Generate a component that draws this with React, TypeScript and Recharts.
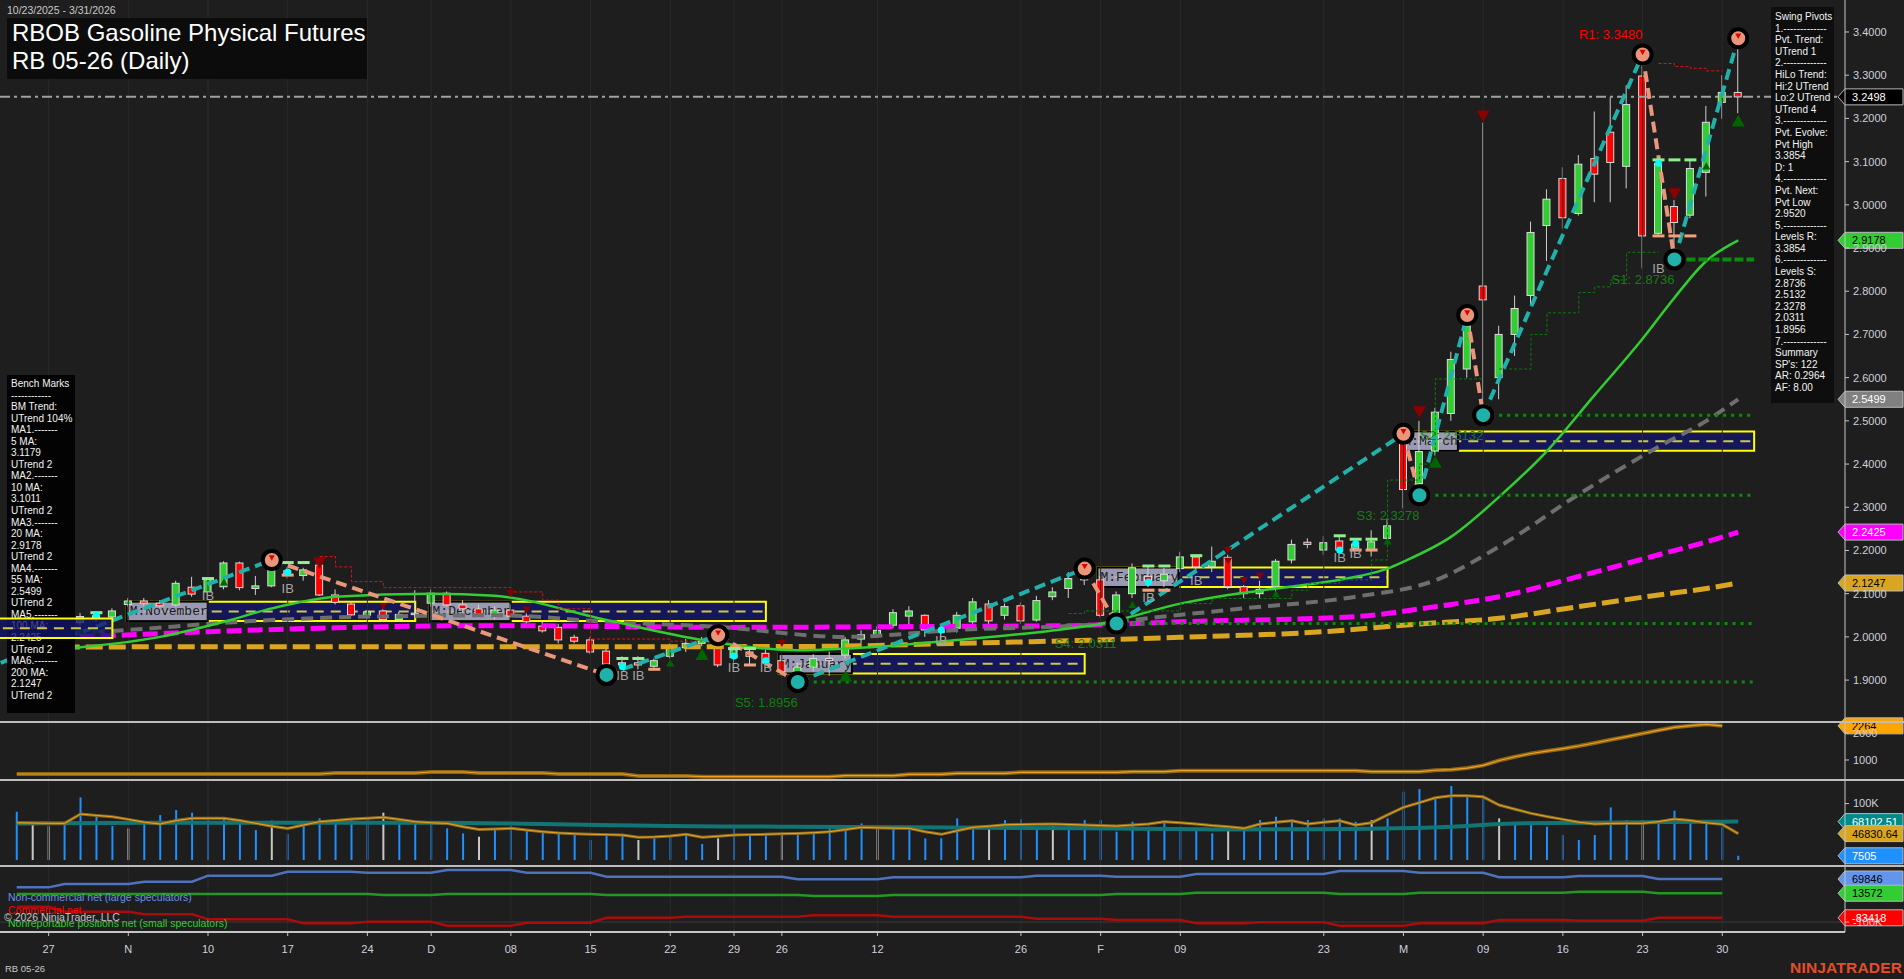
import React from "react"
import {
  ComposedChart,
  Bar,
  Line,
  XAxis,
  YAxis,
  ReferenceLine,
  ReferenceArea,
  Scatter,
  Cell,
} from "recharts"

const FONT = "'Liberation Sans', Arial, Helvetica, sans-serif"
const MONO = "'Liberation Mono', 'Courier New', monospace"
const BG = "#1e1e1e"
const W = 1904
const AXIS_W = 59
const X_DOMAIN: [number, number] = [-1.05, 114.7]
const PRICE_DOMAIN: [number, number] = [1.803, 3.474]
const TICK_COLOR = "#d0d0dc"
const LINE_COLOR = "#c4c4c4"
const BOX_HALF = 0.0225

// ---- time axis (bar index -> label) ----
const xTickIdx = [2, 7, 12, 17, 22, 26, 31, 36, 41, 45, 48, 54, 63, 68, 73, 82, 87, 92, 97, 102, 107]
const xTickLbl = ["27", "N", "10", "17", "24", "D", "08", "15", "22", "29", "26", "12", "26", "F", "09", "23", "M", "09", "16", "23", "30"]

// ---- daily candles, 10/23/2025 .. 3/31/2026 ----
const opens = [
  1.995, 2.01, 2.03, 2.02, 2.033, 2.045, 2.046, 2.075, 2.083, 2.078,
  2.074, 2.115, 2.104, 2.116, 2.171, 2.112, 2.118, 2.153, 2.142, 2.166,
  2.097, 2.076, 2.05, 2.06, 2.04, 2.052, 2.078, 2.101, 2.074, 2.065,
  2.05, 2.062, 2.048, 2.025, 2.022, 1.999, 1.993, 1.967, 1.935, 1.94,
  1.932, 1.955, 1.975, 1.985, 1.977, 1.952, 1.965, 1.962, 1.945, 1.918,
  1.93, 1.95, 1.958, 1.995, 2.005, 2.027, 2.048, 2.05, 2.016, 2.02,
  2.035, 2.076, 2.05, 2.072, 2.039, 2.093, 2.112, 2.132, 2.132, 2.054,
  2.1, 2.14, 2.13, 2.158, 2.185, 2.162, 2.184, 2.116, 2.1, 2.116,
  2.178, 2.219, 2.201, 2.222, 2.205, 2.2, 2.228, 2.479, 2.355, 2.43,
  2.517, 2.62, 2.812, 2.6, 2.7, 2.79, 2.952, 3.061, 2.98, 3.107,
  3.168, 3.089, 3.298, 2.934, 2.996, 2.976, 3.075, 3.237, 3.26,
]
const highs = [
  2.02, 2.035, 2.045, 2.05, 2.055, 2.058, 2.066, 2.09, 2.09, 2.085,
  2.13, 2.139, 2.138, 2.175, 2.174, 2.141, 2.178, 2.162, 2.16, 2.17,
  2.11, 2.08, 2.062, 2.065, 2.058, 2.108, 2.11, 2.105, 2.085, 2.075,
  2.07, 2.075, 2.055, 2.035, 2.03, 2.005, 2.0, 1.975, 1.955, 1.955,
  1.95, 1.985, 1.995, 2.0, 2.004, 1.975, 1.975, 1.97, 1.955, 1.94,
  1.96, 1.966, 2.0, 2.015, 2.025, 2.064, 2.071, 2.052, 2.03, 2.058,
  2.09, 2.085, 2.077, 2.08, 2.095, 2.115, 2.15, 2.158, 2.14, 2.105,
  2.17, 2.165, 2.16, 2.197, 2.19, 2.209, 2.19, 2.12, 2.13, 2.18,
  2.225, 2.228, 2.233, 2.234, 2.228, 2.247, 2.274, 2.488, 2.5, 2.53,
  2.66, 2.745, 3.19, 2.72, 2.79, 2.961, 3.036, 3.087, 3.115, 3.216,
  3.249, 3.277, 3.348, 3.1, 3.011, 3.104, 3.229, 3.3, 3.3854,
]
const lows = [
  1.985, 2.0, 2.015, 2.01, 2.027, 2.035, 2.04, 2.07, 2.07, 2.068,
  2.07, 2.093, 2.1, 2.11, 2.108, 2.097, 2.115, 2.135, 2.13, 2.095,
  2.075, 2.048, 2.04, 2.035, 2.035, 2.045, 2.07, 2.07, 2.055, 2.045,
  2.04, 2.045, 2.03, 2.01, 1.985, 1.985, 1.96, 1.912, 1.925, 1.925,
  1.925, 1.95, 1.965, 1.978, 1.93, 1.94, 1.935, 1.935, 1.91, 1.8956,
  1.92, 1.91, 1.95, 1.985, 1.998, 2.02, 2.027, 2.0, 1.99, 2.01,
  2.03, 2.03, 2.04, 2.03, 2.035, 2.085, 2.09, 2.12, 2.045, 2.0311,
  2.09, 2.115, 2.115, 2.15, 2.155, 2.15, 2.11, 2.09, 2.088, 2.1,
  2.17, 2.205, 2.19, 2.195, 2.2, 2.186, 2.22, 2.297, 2.3278, 2.42,
  2.5, 2.6, 2.5132, 2.55, 2.65, 2.77, 2.87, 2.945, 2.975, 3.006,
  3.006, 3.038, 2.853, 2.93, 2.8736, 2.969, 3.019, 3.199, 3.212,
]
const closes = [
  2.01, 2.03, 2.02, 2.04, 2.047, 2.049, 2.06, 2.083, 2.078, 2.072,
  2.124, 2.099, 2.133, 2.171, 2.114, 2.118, 2.155, 2.143, 2.155, 2.097,
  2.08, 2.051, 2.058, 2.04, 2.052, 2.055, 2.101, 2.074, 2.065, 2.05,
  2.062, 2.048, 2.035, 2.014, 1.993, 1.99, 1.965, 1.937, 1.94, 1.935,
  1.945, 1.975, 1.985, 1.99, 1.935, 1.97, 1.955, 1.942, 1.92, 1.93,
  1.95, 1.945, 1.993, 2.005, 2.015, 2.056, 2.06, 2.016, 2.01, 2.05,
  2.081, 2.037, 2.07, 2.037, 2.084, 2.104, 2.135, 2.147, 2.05, 2.097,
  2.16, 2.13, 2.145, 2.185, 2.162, 2.175, 2.116, 2.1, 2.11, 2.175,
  2.214, 2.214, 2.218, 2.201, 2.215, 2.22, 2.257, 2.341, 2.429, 2.52,
  2.642, 2.72, 2.78, 2.7, 2.76, 2.936, 3.013, 2.97, 3.094, 3.071,
  3.098, 3.232, 2.928, 3.096, 2.959, 3.084, 3.191, 3.26, 3.2498,
]
const lastPrice = 3.2498

// ---- moving averages, read at a few bars: [bar, value] ----
const ma20 = [[0, 1.965], [4, 1.976], [9, 2.0], [13, 2.035], [16, 2.066], [20, 2.093], [26, 2.1], [30, 2.095], [37, 2.039], [43, 1.993], [49, 1.969], [54, 1.977], [59, 1.993], [65, 2.015], [68, 2.03], [73, 2.077], [76, 2.097], [79, 2.112], [84, 2.139], [86, 2.158], [87, 2.174], [90, 2.232], [93, 2.324], [96, 2.43], [99, 2.56], [102, 2.69], [104, 2.785], [106, 2.87], [108, 2.9178]]
const ma55 = [[0, 2.0], [7, 2.016], [14, 2.035], [20, 2.045], [24, 2.048], [30, 2.05], [37, 2.035], [44, 2.023], [52, 2.0], [59, 2.016], [68, 2.03], [70, 2.039], [77, 2.066], [84, 2.093], [89, 2.131], [93, 2.209], [98, 2.33], [103, 2.44], [106, 2.5], [108, 2.5499]]
const ma100 = [[0, 1.998], [5, 2.002], [12, 2.012], [20, 2.021], [30, 2.026], [45, 2.022], [57, 2.024], [66, 2.026], [73, 2.035], [84, 2.047], [89, 2.07], [93, 2.093], [98, 2.14], [103, 2.19], [106, 2.22], [108, 2.2425]]
const ma200 = [[0, 1.976], [10, 1.977], [30, 1.977], [50, 1.978], [59, 1.985], [66, 1.991], [73, 1.999], [82, 2.012], [88, 2.03], [93, 2.043], [98, 2.07], [103, 2.097], [106, 2.112], [108, 2.1247]]

// ---- swing pivots ----
const pivotIdx = [-3, 16, 37, 44, 49, 67, 69, 87, 88, 91, 92, 102, 104, 108]
const pivotVal = [1.912, 2.178, 1.912, 2.004, 1.8956, 2.158, 2.0311, 2.47, 2.3278, 2.745, 2.5132, 3.348, 2.8736, 3.3854]
const levelName = ["R1", "S1", "S2", "S3", "S4", "S5"]
const levelIdx = [102, 104, 92, 88, 69, 49]
const levelVal = [3.348, 2.8736, 2.5132, 2.3278, 2.0311, 1.8956]

// trailing steps [bar, value]
const resTrailA = [[19, 2.186], [20, 2.162], [21, 2.128], [23, 2.114], [31, 2.104], [33, 2.085], [34, 2.065], [36, 1.995], [41, 1.99], [43, 1.99]]
const resTrailB = [[103, 3.327], [104, 3.32], [105, 3.316], [106, 3.31], [107, 3.31]]
const supTrailA = [[66, 2.054], [67, 2.06], [73, 2.077], [75, 2.089], [80, 2.108], [81, 2.124], [83, 2.132], [85, 2.178], [86, 2.363], [88, 2.4], [89, 2.597], [92, 2.597]]
const supTrailB = [[93, 2.62], [95, 2.7], [96, 2.75], [98, 2.797], [99, 2.81], [100, 2.826], [101, 2.89], [103, 2.89]]

// ---- monthly opening boxes (October's label is off the left edge) ----
const monthName = ["", "M:November", "M:December", "M:January", "M:February", "M:March"]
const monthFirst = [-3, 6.9, 25.9, 47.8, 67.8, 86.8]
const monthLast = [6, 25, 47, 67, 86, 109]
const monthOpen = [2.02, 2.059, 2.059, 1.938, 2.138, 2.453]

// ---- markers [bar, price] ----
const downBig = [[19, 2.17], [88, 2.52], [92, 3.205], [104, 3.025]]
const downSmall = [[23, 2.07], [31, 2.1], [32, 2.062], [48, 1.985], [76, 2.2], [76, 2.175], [77, 2.13], [78, 2.14]]
const upBig = [[43, 1.96], [52, 1.91], [89, 2.405], [108, 3.195]]
const upSmall = [[4, 2.015], [5, 2.015], [13, 2.127], [41, 1.94], [70, 2.075], [79, 2.1], [86, 2.222], [106, 3.09]]
const ibMarks = [[12, 2.097], [17, 2.114], [38, 1.912], [39, 1.912], [45, 1.93], [47, 1.93], [58, 1.993], [71, 2.092], [74, 2.131], [83, 2.185], [84, 2.194], [103, 2.854]]
const cyanDots = [[5, 2.05], [17, 2.15], [38, 1.931], [45, 1.956], [47, 1.945], [58, 2.016], [71, 2.127], [83, 2.201], [84, 2.216], [103, 3.096]]
// inside-bar range ticks [bar, price]
const ibHighTicks = [[5, 2.056], [12, 2.135], [17, 2.172], [18, 2.172], [38, 1.95], [39, 1.95], [45, 1.973], [46, 1.973], [71, 2.164], [72, 2.164], [74, 2.188], [83, 2.234], [84, 2.226], [85, 2.226], [103, 3.104], [104, 3.104], [105, 3.104]]
const ibLowTicks = [[17, 2.143], [40, 1.925], [46, 1.935], [71, 2.108], [72, 2.108], [84, 2.201], [85, 2.201], [103, 2.928], [104, 2.928], [105, 2.928]]

const priceTicks = [1.9, 2.0, 2.1, 2.2, 2.3, 2.4, 2.5, 2.6, 2.7, 2.8, 2.9, 3.0, 3.1, 3.2, 3.3, 3.4]

// ---- second panel ----
const oiLine = [
  481, 481, 481, 481, 481, 481, 481, 481, 481, 481,
  481, 481, 481, 481, 481, 481, 481, 481, 481, 481,
  519, 519, 519, 519, 519, 519, 556, 556, 556, 519,
  519, 519, 519, 519, 481, 481, 481, 481, 481, 407,
  407, 407, 407, 383, 383, 383, 383, 383, 383, 383,
  383, 383, 420, 420, 420, 420, 470, 470, 470, 507,
  507, 507, 507, 544, 544, 544, 544, 544, 544, 544,
  567, 567, 567, 604, 604, 604, 604, 604, 604, 604,
  604, 604, 604, 604, 604, 567, 567, 567, 567, 620,
  640, 700, 800, 980, 1120, 1240, 1330, 1420, 1518, 1630,
  1750, 1863, 1980, 2100, 2210, 2270, 2322, 2264, null,
]

// ---- volume ----
const volume = [
  85600, 62000, 60200, 64900, 111000, 79700, 60200, 56100, 67900, 79700,
  88600, 83900, 70900, 73800, 67900, 53100, 69700, 46000, 64900, 73800,
  70900, 72600, 75600, 83900, 73800, 67900, 63800, 56100, 47200, 41300,
  56100, 60200, 52000, 50200, 47200, 44300, 35400, 47200, 44300, 35400,
  38400, 44300, 47200, 28300, 38400, 59100, 44300, 44300, 47200, 47200,
  48400, 60200, 62000, 64900, 56100, 56100, 53100, 38400, 38400, 73800,
  59100, 59100, 70900, 72000, 59100, 60200, 62000, 70900, 70900, 50200,
  67900, 59100, 67900, 59100, 56100, 47200, 56100, 53100, 70900, 76800,
  70900, 70900, 73800, 73800, 67900, 70900, 73800, 121100, 125800, 111000,
  131100, 115200, 112200, 73800, 64900, 62000, 59100, 44300, 35400, 44300,
  93300, 70900, 70900, 70900, 87400, 64900, 70900, 59100, 7505,
]
const lightVolBars = [1, 2, 7, 16, 23, 29, 39, 44, 48, 54, 61, 65, 76, 85, 93, 102]
const volAvgFast = [
  66100, 65500, 65000, 64900, 81500, 79000, 76800, 72000, 67000, 63800,
  70000, 73800, 74000, 73800, 70000, 64900, 60000, 56100, 62000, 67900,
  70000, 72600, 74000, 75600, 72000, 67900, 66000, 64900, 59000, 54300,
  55000, 56100, 53000, 50200, 48000, 46500, 45500, 45000, 44300, 40200,
  41000, 42500, 45500, 40200, 42000, 44300, 45000, 45500, 46500, 47200,
  48500, 50200, 54000, 57900, 57000, 56500, 56100, 50000, 45500, 52000,
  57900, 60000, 62600, 63000, 63500, 63800, 63000, 62000, 61000, 60200,
  62000, 63800, 67900, 66000, 63800, 61000, 59100, 56100, 63800, 67000,
  69700, 63800, 67000, 69700, 62000, 66100, 80000, 93300, 101600, 110400,
  114000, 114000, 112000, 97400, 90000, 82700, 77000, 72000, 67000, 63800,
  64900, 65000, 65000, 68000, 72600, 70000, 66000, 63200, 46830.64,
]
const volAvgSlow = [[0, 64900], [14, 66100], [26, 66100], [33, 63800], [41, 60200], [48, 59100], [56, 57900], [67, 56100], [75, 54300], [83, 54900], [90, 59100], [94, 64900], [106, 67900], [108, 68102.51]]

// ---- COT positions [bar, value] ----
const cotNonComm = [[0, 36800], [2, 36800], [3, 50000], [7, 50000], [8, 59000], [11, 59000], [12, 83000], [16, 83000], [17, 98700], [21, 98700], [22, 94700], [26, 94700], [27, 105000], [31, 105000], [32, 94700], [36, 94700], [37, 79000], [48, 79000], [49, 68500], [54, 68500], [55, 76500], [63, 76500], [64, 83000], [68, 83000], [69, 79000], [73, 79000], [74, 89600], [82, 89600], [83, 101000], [87, 101000], [88, 94700], [92, 94700], [93, 76500], [97, 76500], [98, 81800], [102, 81800], [103, 69846], [107, 69846]]
const cotNonRep = [[0, 10600], [22, 10600], [23, 6600], [26, 6600], [27, 10600], [36, 10600], [37, 6600], [49, 6600], [50, 2700], [54, 2700], [55, 6600], [68, 6600], [69, 10600], [73, 10600], [74, 15700], [82, 15700], [83, 10600], [87, 10600], [88, 15700], [97, 15700], [98, 19700], [102, 19700], [103, 13572], [107, 13572]]
const cotComm = [[0, -39600], [2, -39600], [3, -59300], [7, -59300], [8, -69600], [11, -69600], [12, -89400], [17, -89400], [18, -105000], [21, -105000], [22, -98800], [26, -98800], [27, -114600], [31, -114600], [32, -102800], [36, -102800], [37, -83000], [41, -83000], [42, -79100], [49, -79100], [50, -73500], [54, -73500], [55, -79100], [63, -79100], [64, -87000], [68, -87000], [69, -92100], [73, -92100], [74, -105000], [77, -105000], [78, -101200], [82, -101200], [83, -114600], [87, -114600], [88, -105000], [92, -105000], [93, -92100], [97, -92100], [98, -94800], [102, -94800], [103, -83418], [107, -83418]]

const benchLines = ["Bench Marks", "------------", "BM Trend:", "UTrend 104%", "MA1.-------", "5 MA:", "3.1179", "UTrend 2", "MA2.-------", "10 MA:", "3.1011", "UTrend 2", "MA3.-------", "20 MA:", "2.9178", "UTrend 2", "MA4.-------", "55 MA:", "2.5499", "UTrend 2", "MA5.-------", "100 MA:", "2.2425", "UTrend 2", "MA6.-------", "200 MA:", "2.1247", "UTrend 2"]
const swingLines = ["Swing Pivots", "1.-------------", "Pvt. Trend:", "UTrend 1", "2.-------------", "HiLo Trend:", "Hi:2 UTrend", "Lo:2 UTrend", "UTrend 4", "3.-------------", "Pvt. Evolve:", "Pvt High", "3.3854", "D: 1", "4.-------------", "Pvt. Next:", "Pvt Low", "2.9520", "5.-------------", "Levels R:", "3.3854", "6.-------------", "Levels S:", "2.8736", "2.5132", "2.3278", "2.0311", "1.8956", "7.-------------", "Summary", "SP's: 122", "AR: 0.2964", "AF: 8.00"]

// ---------------------------------------------------------------

const pts = (arr: number[][], key = "v") => arr.map(([i, v]) => ({ i, [key]: v }))

// price rows: one lead-in row for the off-chart pivot, then one row per bar
const priceRows: any[] = [{ i: pivotIdx[0] }].concat(
  closes.map((c, i) => ({ i, o: opens[i], h: highs[i], l: lows[i], c, hl: [lows[i], highs[i]] } as any))
)
const rowAt = (i: number) => priceRows.find((r) => r.i === i)
const put = (arr: number[][], key: string) => arr.forEach(([i, v]) => (rowAt(i)[key] = v))
put(ma20, "ma20")
put(ma55, "ma55")
put(ma100, "ma100")
put(ma200, "ma200")
put(resTrailA, "ra")
put(resTrailB, "rb")
put(supTrailA, "sa")
put(supTrailB, "sb")
const zzUp: boolean[] = []
pivotIdx.slice(1).forEach((i, k) => {
  rowAt(pivotIdx[k])["zz" + k] = pivotVal[k]
  rowAt(i)["zz" + k] = pivotVal[k + 1]
  zzUp.push(pivotVal[k + 1] > pivotVal[k])
})

const lightSet = new Set(lightVolBars)
const volRows = volume.map((v, i) => ({ i, v, f: volAvgFast[i] } as any))
volAvgSlow.forEach(([i, v]) => (volRows[i].s = v))
const oiRows = oiLine.map((v, i) => ({ i, v }))
const cotRows = closes.map((_, i) => ({ i } as any))
cotNonComm.forEach(([i, v]) => (cotRows[i].nc = v))
cotNonRep.forEach(([i, v]) => (cotRows[i].nr = v))
cotComm.forEach(([i, v]) => (cotRows[i].cm = v))

function Candle(props: any) {
  const { x, y, width, height, payload } = props
  if (!payload || payload.h == null || x == null || y == null) return <g />
  const top = Math.min(y, y + height)
  const span = Math.abs(height)
  const k = payload.h > payload.l ? span / (payload.h - payload.l) : 0
  const cx = x + width / 2
  const yo = top + (payload.h - payload.o) * k
  const yc = top + (payload.h - payload.c) * k
  const up = payload.c >= payload.o
  const bt = Math.min(yo, yc)
  const bh = Math.max(Math.abs(yc - yo), 1.5)
  return (
    <g>
      <line x1={cx} x2={cx} y1={top} y2={top + span} stroke="#cfcfcf" strokeWidth={1} />
      <rect x={cx - 3.5} y={bt} width={7} height={bh} fill={up ? "#32cd32" : "#ff0000"} stroke="#dcdcdc" strokeWidth={1} />
    </g>
  )
}

function Tri({ cx, cy, up, size, color }: any) {
  if (cx == null) return <g />
  const h = size * 0.9
  const p = up
    ? `${cx},${cy - h / 2} ${cx - size / 2},${cy + h / 2} ${cx + size / 2},${cy + h / 2}`
    : `${cx},${cy + h / 2} ${cx - size / 2},${cy - h / 2} ${cx + size / 2},${cy - h / 2}`
  return <polygon points={p} fill={color} />
}

function Tick({ cx, cy, color }: any) {
  if (cx == null) return <g />
  return <rect x={cx - 6} y={cy - 1.5} width={12} height={3} fill={color} />
}

function Tag({ viewBox, text, bg, fg }: any) {
  if (!viewBox) return null
  const xr = viewBox.x + viewBox.width
  const y = viewBox.y
  return (
    <g>
      <polygon
        points={`${xr - 7},${y} ${xr},${y - 8} ${xr + 58},${y - 8} ${xr + 58},${y + 8} ${xr},${y + 8}`}
        fill={bg}
        stroke="#b8b8b8"
        strokeWidth={1}
      />
      <text x={xr + 7} y={y + 4} fill={fg} fontSize={11} fontFamily={FONT}>
        {text}
      </text>
    </g>
  )
}

const tagLine = (y: number, text: string, bg: string, fg: string) => (
  <ReferenceLine key={"tag" + text} y={y} stroke="none" label={(p: any) => <Tag viewBox={p.viewBox} text={text} bg={bg} fg={fg} />} />
)

function MonthLabel({ viewBox, text }: any) {
  if (!viewBox) return null
  const { x, y, width, height } = viewBox
  const mid = y + height / 2
  const lw = text.length * 7.8 + 3
  return (
    <g>
      <line x1={x} x2={x + width} y1={mid} y2={mid} stroke="#c9c94a" strokeWidth={2} strokeDasharray="10 7" />
      {text ? (
        <g>
          <rect x={x} y={y} width={lw} height={height} fill="#b0b0c4" fillOpacity={0.85} stroke="#000" strokeWidth={2} />
          <text x={x + 3} y={mid + 4} fontSize={13} fontFamily={MONO} fill="#1a1a1a">
            {text}
          </text>
        </g>
      ) : null}
    </g>
  )
}

const monthBox = (k: number) => (
  <ReferenceArea
    key={"mb" + k}
    x1={monthFirst[k]}
    x2={monthLast[k]}
    y1={monthOpen[k] - BOX_HALF}
    y2={monthOpen[k] + BOX_HALF}
    ifOverflow="hidden"
    fill="#15156b"
    fillOpacity={0.78}
    stroke="#ffff00"
    strokeWidth={2}
    label={(p: any) => <MonthLabel viewBox={p.viewBox} text={monthName[k]} />}
  />
)

const yTick = { fill: TICK_COLOR, fontSize: 11, fontFamily: FONT }
const gridLines = xTickIdx.map((t) => <ReferenceLine key={"g" + t} x={t} stroke="#2a2a2a" />)
const flat = { dot: false, activeDot: false, isAnimationActive: false } as any

function PricePanel() {
  return (
    <ComposedChart width={W} height={722} data={priceRows} margin={{ top: 0, right: 0, bottom: 0, left: 0 }}>
      <XAxis dataKey="i" type="number" domain={X_DOMAIN} allowDataOverflow hide />
      <YAxis
        orientation="right"
        width={AXIS_W}
        type="number"
        domain={PRICE_DOMAIN}
        allowDataOverflow
        ticks={priceTicks}
        interval={0}
        tickFormatter={(v: number) => v.toFixed(4)}
        tick={yTick}
        tickSize={4}
        tickMargin={4}
        axisLine={{ stroke: LINE_COLOR }}
        tickLine={{ stroke: LINE_COLOR }}
      />
      {gridLines}
      <Line dataKey="ma200" stroke="#daa520" strokeWidth={5} strokeDasharray="17 6" connectNulls type="monotone" {...flat} />
      <Line dataKey="ma100" stroke="#ff00ff" strokeWidth={5} strokeDasharray="15 6" connectNulls type="monotone" {...flat} />
      <Line dataKey="ma55" stroke="#6e6e6e" strokeWidth={4} strokeDasharray="12 7" connectNulls type="monotone" {...flat} />
      <Line dataKey="ma20" stroke="#32cd32" strokeWidth={2.5} connectNulls type="monotone" {...flat} />
      {levelIdx.slice(1).map((i, k) => (
        <ReferenceLine
          key={"lv" + k}
          segment={[{ x: i, y: levelVal[k + 1] }, { x: 109, y: levelVal[k + 1] }]}
          stroke="#0e8a0e"
          strokeWidth={k === 0 ? 4 : 3}
          strokeDasharray={k === 0 ? "9 3" : "3 5"}
        />
      ))}
      {["ra", "rb"].map((key) => (
        <Line key={key} dataKey={key} type="stepAfter" stroke="#e01010" strokeWidth={1} strokeDasharray="3 2" connectNulls {...flat} />
      ))}
      {["sa", "sb"].map((key) => (
        <Line key={key} dataKey={key} type="stepAfter" stroke="#0c7a0c" strokeWidth={1} strokeDasharray="3 2" connectNulls {...flat} />
      ))}
      <Bar dataKey="hl" barSize={7} shape={Candle} isAnimationActive={false} />
      <Scatter data={pts(ibHighTicks, "p")} dataKey="p" isAnimationActive={false} shape={(s: any) => <Tick cx={s.cx} cy={s.cy} color="#90ee90" />} />
      <Scatter data={pts(ibLowTicks, "p")} dataKey="p" isAnimationActive={false} shape={(s: any) => <Tick cx={s.cx} cy={s.cy} color="#f4a07c" />} />
      {monthName.map((_, k) => (k > 0 ? monthBox(k) : null))}
      <ReferenceLine
        segment={[{ x: X_DOMAIN[0], y: lastPrice }, { x: X_DOMAIN[1], y: lastPrice }]}
        ifOverflow="visible"
        stroke="#a0a0a0"
        strokeWidth={2}
        strokeDasharray="10 4 3 4"
      />
      {zzUp.map((up, k) => (
        <Line
          key={"zz" + k}
          dataKey={"zz" + k}
          stroke={up ? "#20b2aa" : "#e9967a"}
          strokeWidth={4}
          strokeDasharray="11 6"
          connectNulls
          {...flat}
        />
      ))}
      <Scatter data={pts(downBig, "p")} dataKey="p" isAnimationActive={false} shape={(s: any) => <Tri cx={s.cx} cy={s.cy} size={13} color="#8b0000" />} />
      <Scatter data={pts(downSmall, "p")} dataKey="p" isAnimationActive={false} shape={(s: any) => <Tri cx={s.cx} cy={s.cy} size={8} color="#8b0000" />} />
      <Scatter data={pts(upBig, "p")} dataKey="p" isAnimationActive={false} shape={(s: any) => <Tri cx={s.cx} cy={s.cy} up size={13} color="#006400" />} />
      <Scatter data={pts(upSmall, "p")} dataKey="p" isAnimationActive={false} shape={(s: any) => <Tri cx={s.cx} cy={s.cy} up size={8} color="#006400" />} />
      <Scatter data={pts(cyanDots, "p")} dataKey="p" isAnimationActive={false} shape={(s: any) => (s.cx == null ? <g /> : <circle cx={s.cx} cy={s.cy} r={3.5} fill="#00ffff" />)} />
      <Scatter
        data={pts(ibMarks, "p")}
        dataKey="p"
        isAnimationActive={false}
        shape={(s: any) =>
          s.cx == null ? <g /> : (
            <text x={s.cx} y={s.cy + 5} textAnchor="middle" fontSize={13} fontFamily={FONT} fill="#a4a4a4">
              IB
            </text>
          )
        }
      />
      <Scatter
        data={pivotIdx.map((i, k) => ({ i, p: pivotVal[k], hi: k > 0 && pivotVal[k] > pivotVal[k - 1] })).filter((d) => d.i >= 0)}
        dataKey="p"
        isAnimationActive={false}
        shape={(s: any) =>
          s.cx == null ? <g /> : (
            <g>
              <circle cx={s.cx} cy={s.cy} r={9} fill={s.payload.hi ? "#e9967a" : "#20b2aa"} stroke="#000" strokeWidth={4} />
              {s.payload.hi ? <Tri cx={s.cx} cy={s.cy - 2} size={6} color="#e00000" /> : null}
            </g>
          )
        }
      />
      <Scatter
        data={levelIdx.map((i, k) => ({ i, p: levelVal[k], name: levelName[k] }))}
        dataKey="p"
        isAnimationActive={false}
        shape={(s: any) => {
          if (s.cx == null) return <g />
          const isR = s.payload.name.startsWith("R")
          return (
            <text
              x={s.cx}
              y={isR ? s.cy - 15 : s.cy + 25}
              textAnchor="end"
              fontSize={13}
              fontFamily={FONT}
              fill={isR ? "#ff0000" : "#127f12"}
            >
              {s.payload.name + ": " + s.payload.p.toFixed(4)}
            </text>
          )
        }}
      />
      {tagLine(lastPrice, "3.2498", "#000000", "#ffffff")}
      {tagLine(2.9178, "2.9178", "#32cd32", "#000000")}
      {tagLine(2.5499, "2.5499", "#808080", "#ffffff")}
      {tagLine(2.2425, "2.2425", "#ff00ff", "#ffffff")}
      {tagLine(2.1247, "2.1247", "#daa520", "#000000")}
    </ComposedChart>
  )
}

// the October box is drawn over the Bench Marks panel, as in the original
function OverlayPanel() {
  return (
    <ComposedChart width={W} height={722} data={[]} margin={{ top: 0, right: AXIS_W, bottom: 0, left: 0 }}>
      <XAxis dataKey="i" type="number" domain={X_DOMAIN} allowDataOverflow hide />
      <YAxis type="number" domain={PRICE_DOMAIN} allowDataOverflow hide />
      {monthBox(0)}
    </ComposedChart>
  )
}

function OiPanel() {
  return (
    <ComposedChart width={W} height={58} data={oiRows} margin={{ top: 0, right: 0, bottom: 0, left: 0 }}>
      <XAxis dataKey="i" type="number" domain={X_DOMAIN} allowDataOverflow hide />
      <YAxis orientation="right" width={AXIS_W} type="number" domain={[259, 2407]} allowDataOverflow ticks={[1000, 2000]} interval={0} tick={yTick} tickSize={4} tickMargin={4} axisLine={{ stroke: LINE_COLOR }} tickLine={{ stroke: LINE_COLOR }} />
      {gridLines}
      <Line dataKey="v" stroke="#8b6512" strokeWidth={4} {...flat} />
      <Line dataKey="v" stroke="#f0a028" strokeWidth={1.2} {...flat} />
      {tagLine(2264, "2264", "#ffa500", "#000000")}
    </ComposedChart>
  )
}

function VolPanel() {
  return (
    <ComposedChart width={W} height={86} data={volRows} margin={{ top: 0, right: 0, bottom: 0, left: 0 }}>
      <XAxis dataKey="i" type="number" domain={X_DOMAIN} allowDataOverflow hide />
      <YAxis orientation="right" width={AXIS_W} type="number" domain={[-10600, 141800]} allowDataOverflow ticks={[100000]} interval={0} tickFormatter={() => "100K"} tick={yTick} tickSize={4} tickMargin={4} axisLine={{ stroke: LINE_COLOR }} tickLine={{ stroke: LINE_COLOR }} />
      {gridLines}
      <Bar dataKey="v" barSize={2} isAnimationActive={false}>
        {volRows.map((r, k) => (
          <Cell key={k} fill={lightSet.has(k) ? "#c8c8c8" : "#1e90ff"} />
        ))}
      </Bar>
      <Line dataKey="s" stroke="#127575" strokeWidth={4} connectNulls type="monotone" {...flat} />
      <Line dataKey="f" stroke="#8a6a1e" strokeWidth={3} {...flat} />
      <Line dataKey="f" stroke="#e6a526" strokeWidth={1} {...flat} />
      {tagLine(68102.51, "68102.51", "#008b8b", "#ffffff")}
      {tagLine(46830.64, "46830.64", "#daa520", "#000000")}
      {tagLine(7505, "7505", "#1e90ff", "#ffffff")}
    </ComposedChart>
  )
}

function DateTick({ x, y, payload }: any) {
  const k = xTickIdx.indexOf(payload.value)
  return (
    <g>
      <line x1={x} x2={x} y1={y - 9} y2={y - 4} stroke={LINE_COLOR} />
      <text x={x} y={y + 13} textAnchor="middle" fontSize={11} fontFamily={FONT} fill={TICK_COLOR}>
        {k >= 0 ? xTickLbl[k] : ""}
      </text>
    </g>
  )
}

function CotPanel() {
  return (
    <ComposedChart width={W} height={113} data={cotRows} margin={{ top: 0, right: 0, bottom: 0, left: 0 }}>
      <XAxis
        dataKey="i"
        type="number"
        domain={X_DOMAIN}
        allowDataOverflow
        ticks={xTickIdx}
        interval={0}
        height={47}
        tickLine={false}
        axisLine={{ stroke: LINE_COLOR, strokeWidth: 2 }}
        tick={<DateTick />}
      />
      <YAxis orientation="right" width={AXIS_W} type="number" domain={[-139500, 121200]} allowDataOverflow ticks={[-100000]} interval={0} tickFormatter={() => "-100K"} tick={yTick} tickSize={4} tickMargin={4} axisLine={{ stroke: LINE_COLOR }} tickLine={{ stroke: LINE_COLOR }} />
      {gridLines}
      <ReferenceLine y={-100000} stroke="#3a3a3a" />
      <Line dataKey="nr" stroke="#229a22" strokeWidth={2.5} connectNulls {...flat} />
      <Line dataKey="cm" stroke="#a80c0c" strokeWidth={2.5} connectNulls {...flat} />
      <Line dataKey="nc" stroke="#4f72bd" strokeWidth={2.5} connectNulls {...flat} />
      {tagLine(69846, "69846", "#6495ed", "#000000")}
      {tagLine(13572, "13572", "#32cd32", "#000000")}
      {tagLine(-83418, "-83418", "#ff0000", "#ffffff")}
    </ComposedChart>
  )
}

const boxText = { color: "#f2f2f2", fontSize: 10, lineHeight: "11.55px", whiteSpace: "pre" as const }
// price panel is hidden behind the Bench Marks box (x 7..75, y 375..713)
const benchHole = "polygon(0 0, 1904px 0, 1904px 722px, 0 722px, 0 713px, 7px 713px, 75px 713px, 75px 375px, 7px 375px, 7px 713px, 0 713px)"

export default function App() {
  return (
    <div style={{ position: "relative", width: W, height: 979, background: BG, overflow: "hidden", fontFamily: FONT }}>
      <style>{"html,body{margin:0;padding:0;background:#1e1e1e;} .recharts-surface{overflow:visible;}"}</style>

      <div style={{ position: "absolute", left: 7, top: 375, width: 68, height: 338, background: "#030303", boxSizing: "border-box", padding: "3px 0 0 4px", ...boxText }}>
        {benchLines.map((t, k) => (
          <div key={k}>{t}</div>
        ))}
      </div>

      <div style={{ position: "absolute", left: 0, top: 0, clipPath: benchHole }}>
        <PricePanel />
      </div>
      <div style={{ position: "absolute", left: 0, top: 0 }}>
        <OverlayPanel />
      </div>
      <div style={{ position: "absolute", left: 0, top: 722 }}>
        <OiPanel />
      </div>
      <div style={{ position: "absolute", left: 0, top: 780 }}>
        <VolPanel />
      </div>
      <div style={{ position: "absolute", left: 0, top: 866 }}>
        <CotPanel />
      </div>
      {[721, 779, 865].map((t) => (
        <div key={t} style={{ position: "absolute", left: 0, top: t, width: W, height: 2, background: "#bdbdbd" }} />
      ))}

      <div style={{ position: "absolute", left: 7, top: 4, fontSize: 10.5, color: "#c8c8c8" }}>10/23/2025 - 3/31/2026</div>
      <div style={{ position: "absolute", left: 7, top: 18, width: 360, height: 61, background: "#0c0c0c" }}>
        <div style={{ padding: "1px 0 0 5px", color: "#ffffff", fontSize: 24, lineHeight: "28px" }}>
          <div>RBOB Gasoline Physical Futures</div>
          <div>RB 05-26 (Daily)</div>
        </div>
      </div>

      <div style={{ position: "absolute", left: 1771, top: 7, width: 63, height: 396, background: "#0e0e0e", boxSizing: "border-box", padding: "4px 0 0 4px", ...boxText, lineHeight: "11.6px" }}>
        {swingLines.map((t, k) => (
          <div key={k}>{t}</div>
        ))}
      </div>

      <div style={{ position: "absolute", left: 8, top: 891, fontSize: 10.5, color: "#6495ed", whiteSpace: "nowrap" }}>Non-commercial net (large speculators)</div>
      <div style={{ position: "absolute", left: 8, top: 904, fontSize: 10.5, color: "#ff0000", whiteSpace: "nowrap" }}>Commercial net</div>
      <div style={{ position: "absolute", left: 4, top: 911, fontSize: 10.5, color: "#c4c4c4", whiteSpace: "nowrap" }}>© 2026 NinjaTrader, LLC</div>
      <div style={{ position: "absolute", left: 8, top: 917, fontSize: 10.5, color: "#32cd32", whiteSpace: "nowrap" }}>Nonreportable positions net (small speculators)</div>

      <div style={{ position: "absolute", left: 5, top: 963, fontSize: 9.5, color: "#c8c8c8" }}>RB 05-26</div>
      <div style={{ position: "absolute", left: 1790, top: 959, fontSize: 15.5, fontWeight: 700, color: "#e84c27", letterSpacing: 0.2 }}>NINJATRADER</div>
    </div>
  )
}
